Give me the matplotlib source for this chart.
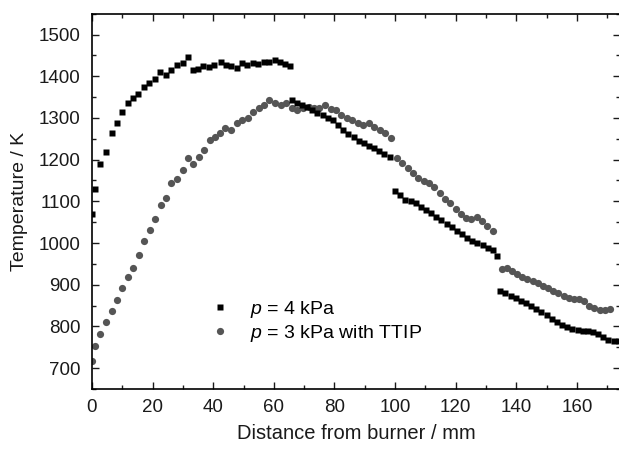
import matplotlib
matplotlib.use("Agg")
import matplotlib.pyplot as plt
from matplotlib.ticker import MultipleLocator

plt.rcParams['font.family'] = ['Liberation Sans', 'DejaVu Sans']
plt.rcParams['mathtext.fontset'] = 'custom'
plt.rcParams['mathtext.it'] = 'Liberation Sans:italic'
plt.rcParams['mathtext.rm'] = 'Liberation Sans'

# -------- data: p = 4 kPa (squares) --------
p4_x = [0.0, 1.0, 2.6, 4.5, 6.5, 8.4, 9.9, 11.8, 13.5, 15.3, 17.3, 18.9, 20.8, 22.5,
        24.4, 26.2, 28.1, 29.9, 31.8, 33.4, 35.0, 36.7, 38.5, 40.4, 42.5, 44.1, 45.9,
        47.7, 49.6, 51.3, 53.2, 54.9, 56.7, 58.4, 60.4, 62.1, 63.8, 65.2,
        65.9, 67.6, 69.3, 71.0, 72.7, 74.4, 76.1, 77.8, 79.5, 81.2, 82.9, 84.6, 86.3,
        88.0, 89.7, 91.4, 93.1, 94.8, 96.5, 98.2,
        100.0, 101.7, 103.4, 105.1, 106.8, 108.5, 110.2, 111.9, 113.6, 115.3, 117.0,
        118.7, 120.4, 122.1, 123.8, 125.5, 127.2, 128.9, 130.6, 132.3, 133.5,
        134.7, 136.4, 138.1, 139.8, 141.5, 143.2, 144.9, 146.6, 148.3, 150.0, 151.7,
        153.4, 155.1, 156.8, 158.5, 160.2, 161.9, 163.6, 165.3, 167.0, 168.7, 170.4,
        172.1, 173.8]
p4_T = [1070, 1130, 1190, 1219, 1263, 1289, 1315, 1335, 1347, 1358, 1373, 1384, 1393, 1409,
        1404, 1416, 1428, 1431, 1447, 1415, 1417, 1425, 1422, 1428, 1434, 1428, 1425,
        1420, 1431, 1428, 1432, 1430, 1434, 1434, 1438, 1434, 1430, 1425,
        1342, 1336, 1330, 1326, 1320, 1312, 1306, 1300, 1295, 1284, 1272, 1262, 1255,
        1245, 1240, 1232, 1227, 1220, 1213, 1207,
        1124, 1114, 1104, 1100, 1095, 1087, 1079, 1072, 1063, 1055, 1046,
        1038, 1030, 1021, 1013, 1006, 1001, 995, 988, 984, 970,
        885, 879, 873, 867, 860, 855, 848, 842, 835, 827, 819,
        811, 804, 798, 793, 791, 790, 789, 786, 781, 775, 768,
        766, 766]

# -------- data: p = 3 kPa with TTIP (circles) --------
p3_x = [0.0, 1.0, 2.6, 4.5, 6.5, 8.3, 10.0, 11.8, 13.6, 15.4, 17.3, 19.0, 20.9, 22.8,
        24.4, 26.1, 28.0, 29.9, 31.6, 33.4, 35.3, 37.1, 39.0, 40.6, 42.2, 43.9, 45.9,
        47.8, 49.6, 51.6, 53.2, 55.1, 56.8, 58.5, 60.4, 62.3, 64.0, 65.9, 67.7, 69.6,
        71.5, 73.2, 75.0, 76.9, 78.7, 80.4, 82.3, 84.1, 85.9, 87.7, 89.5, 91.3, 93.1,
        94.9, 96.7, 98.5,
        100.6, 102.4, 104.2, 105.9, 107.6, 109.4, 111.2, 113.0, 114.7, 116.4, 118.2,
        120.0, 121.7, 123.4, 125.2, 127.0, 128.8, 130.5, 132.3,
        135.2, 136.9, 138.6, 140.3, 142.0, 143.7, 145.4, 147.1, 148.8, 150.5, 152.2,
        153.9, 155.6, 157.3, 159.0, 160.7, 162.4, 164.1, 165.8, 167.5, 169.2, 170.9]
p3_T = [718, 754, 782, 810, 836, 863, 891, 918, 939, 971, 1004, 1032, 1058, 1091,
        1109, 1144, 1153, 1175, 1203, 1189, 1207, 1223, 1247, 1255, 1264, 1277, 1271,
        1287, 1295, 1299, 1315, 1323, 1331, 1342, 1336, 1331, 1336, 1323, 1319, 1323,
        1327, 1323, 1325, 1331, 1321, 1319, 1307, 1300, 1295, 1289, 1283, 1287, 1279,
        1271, 1263, 1251,
        1203, 1193, 1180, 1168, 1155, 1148, 1144, 1134, 1120, 1106, 1095,
        1082, 1070, 1060, 1058, 1062, 1052, 1042, 1030,
        937, 941, 932, 925, 918, 913, 909, 903, 897, 891, 885,
        879, 873, 867, 865, 866, 862, 850, 843, 839, 840, 841]

label_p4 = r'$p$ = 4 kPa'
label_p3 = r'$p$ = 3 kPa with TTIP'

# -------- figure --------
fig = plt.figure(figsize=(6.19, 4.5), dpi=100)
ax = fig.add_axes([0.1486, 0.1356, 0.8534, 0.834])

ax.plot(p3_x, p3_T, 'o', color='#555555', ms=5.2, mec='none', label=label_p3, zorder=2)
ax.plot(p4_x, p4_T, 's', color='black', ms=4.6, mec='none', label=label_p4, zorder=3)

ax.set_xlim(0, 174.3)
ax.set_ylim(650, 1550)
ax.xaxis.set_major_locator(MultipleLocator(20))
ax.xaxis.set_minor_locator(MultipleLocator(10))
ax.yaxis.set_major_locator(MultipleLocator(100))
ax.yaxis.set_minor_locator(MultipleLocator(50))
ax.tick_params(which='both', direction='in', top=True, right=True, width=1.0,
               labelsize=13.5, colors='#1a1a1a')
ax.tick_params(which='major', length=5)
ax.tick_params(which='minor', length=3)
ax.tick_params(axis='x', pad=7)
ax.tick_params(axis='y', pad=8)
for s in ax.spines.values():
    s.set_linewidth(1.2)

ax.set_xlabel('Distance from burner / mm', fontsize=14.5, labelpad=6, color='#1a1a1a')
ax.set_ylabel('Temperature / K', fontsize=14, labelpad=8, color='#1a1a1a')

h, l = ax.get_legend_handles_labels()
ax.legend(h[::-1], l[::-1], loc='center left', bbox_to_anchor=(0.205, 0.18),
          frameon=False, fontsize=14, handlelength=1.0, handletextpad=1.05,
          labelspacing=0.15, borderpad=0)

fig.savefig('out.png', dpi=100)
